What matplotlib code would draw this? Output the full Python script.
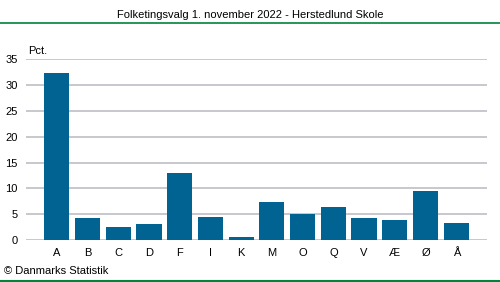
import matplotlib
matplotlib.use("Agg")
import matplotlib.pyplot as plt
from matplotlib.lines import Line2D

categories = ["A", "B", "C", "D", "F", "I", "K", "M", "O", "Q", "V", "Æ", "Ø", "Å"]
values = [32.4, 4.3, 2.5, 3.1, 13.0, 4.5, 0.6, 7.4, 5.0, 6.4, 4.3, 3.9, 9.5, 3.3]
yticks = [0, 5, 10, 15, 20, 25, 30, 35]

title = "Folketingsvalg 1. november 2022 - Herstedlund Skole"
unit = "Pct."
source = "© Danmarks Statistik"

plt.rcParams['font.family'] = ['Liberation Sans', 'DejaVu Sans']

W, H = 500, 282
fig = plt.figure(figsize=(W / 100, H / 100), dpi=100)
ax = fig.add_axes([26 / W, 1 - 240 / H, (487 - 26) / W, (240 - 59.3) / H])

x = list(range(len(categories)))
ax.bar(x, values, width=0.82, color="#006391", zorder=3)
ax.set_xlim(-1, len(categories))
ax.set_ylim(0, 35)
ax.set_yticks(yticks)
ax.set_xticks(x)
ax.set_xticklabels(categories)
ax.yaxis.grid(True, color="#BDBDC6", linewidth=1.2, zorder=0)
ax.tick_params(axis='both', length=0, labelsize=8, colors="#000000")
ax.tick_params(axis='x', pad=6)
ax.tick_params(axis='y', pad=6)
for s in ax.spines.values():
    s.set_visible(False)

fig.text(28 / W, 1 - 51 / H, unit, fontsize=8, ha='left', va='center')
fig.text(250 / W, 1 - 15 / H, title, fontsize=8, ha='center', va='center')
fig.text(4 / W, 1 - 271 / H, source, fontsize=8, ha='left', va='center')

fig.add_artist(Line2D([0, 1], [1 - 22.5 / H, 1 - 22.5 / H], color="#00843D", linewidth=1.2, transform=fig.transFigure))
fig.add_artist(Line2D([0, 1], [1 - 281 / H, 1 - 281 / H], color="#00843D", linewidth=1.5, transform=fig.transFigure))

fig.savefig("out.png", dpi=100)
